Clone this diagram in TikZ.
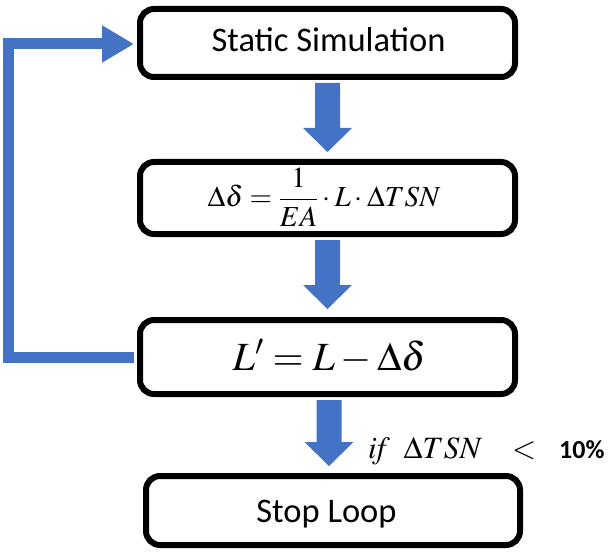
\documentclass[tikz,border=0pt]{standalone}
\usepackage{amsmath}
\usepackage{mathptmx}
\usepackage[no-math]{fontspec}
\setmainfont{Carlito}
\usetikzlibrary{arrows.meta,calc}
\definecolor{arrowblue}{RGB}{68,114,196}
\tikzset{
  box/.style={draw=black, line width=6pt, rounded corners=14pt, inner sep=0pt},
  boxtext/.style={anchor=base, inner sep=0pt},
  feedback/.style={draw=arrowblue, line width=11pt, line join=miter,
    -{Triangle[length=32pt,width=35pt]}}
}
\newcommand\blockarrow[2]{%
  \fill[arrowblue] let \p1=(#1), \p2=(#2) in
    (\x1-12.5pt,\y1) -- (\x1+12.5pt,\y1) -- (\x1+12.5pt,\y2+24pt) --
    (\x1+24.5pt,\y2+24pt) -- (\x1,\y2) -- (\x1-24.5pt,\y2+24pt) --
    (\x1-12.5pt,\y2+24pt) -- cycle;}
\begin{document}
\begin{tikzpicture}[x=1pt,y=1pt]
\useasboundingbox (0,0) rectangle (610,-556);
% boxes
\node[box, minimum width=375pt, minimum height=68pt] (b1) at (327.5,-43) {};
\node[box, minimum width=375pt, minimum height=72pt] (b2) at (327.5,-198) {};
\node[box, minimum width=375pt, minimum height=74pt] (b3) at (327.5,-357) {};
\node[box, minimum width=374pt, minimum height=69pt] (b4) at (333,-510.5) {};
% texts
\node[boxtext] (t1) at (328.5,-52) {\fontsize{34.5}{40}\selectfont Static Simulation};
\node[boxtext] (t2) at (324,-207) {\fontsize{29}{34}\selectfont $\Delta\delta = \dfrac{1}{EA}\cdot L\cdot \Delta TSN$};
\node[boxtext] (t3) at (329.5,-370) {\fontsize{40}{48}\selectfont $L' = L - \Delta\delta$};
\node[boxtext] (t4) at (326.5,-522) {\fontsize{34.5}{40}\selectfont Stop Loop};
\node[anchor=base west, inner sep=0pt] (cond) at (368,-458)
  {\fontsize{31}{36}\selectfont $\mathit{if}\;\;\Delta TSN\hspace{23pt}<$\hspace{23pt}\fontsize{26}{30}\selectfont\textbf{10\%}};
% block arrows
\coordinate (a1s) at ($(b1.south)+(0,-3)$);
\coordinate (a1e) at ($(b2.north)+(0,7)$);
\coordinate (a2s) at ($(b2.south)+(0,-3)$);
\coordinate (a2e) at ($(b3.north)+(0,8)$);
\coordinate (a3s) at ($(b3.south)+(1.5,-3)$);
\coordinate (a3e) at ($(b4.north)+(-4,7)$);
\blockarrow{a1s}{a1e}
\blockarrow{a2s}{a2e}
\blockarrow{a3s}{a3e}
% feedback loop
\coordinate (fbs) at ($(b3.west)+(-3,0)$);
\coordinate (fbe) at ($(b1.west)+(-3,-1)$);
\draw[feedback] (fbs) -- ($(fbs)+(-125.5,0)$) |- (fbe);
\end{tikzpicture}
\end{document}
